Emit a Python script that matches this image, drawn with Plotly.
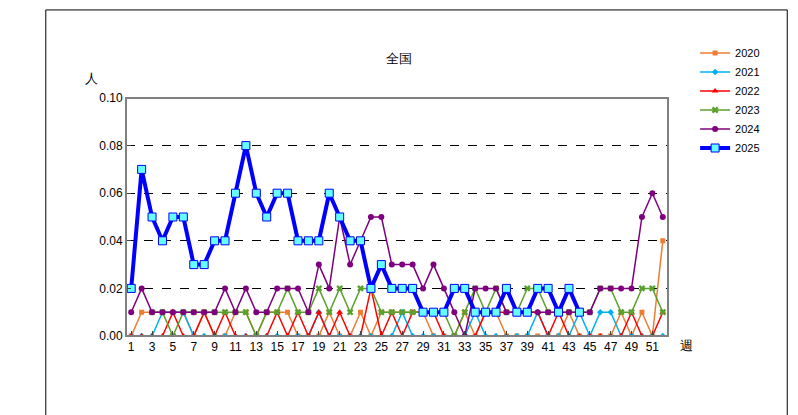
import plotly.graph_objects as go

weeks = list(range(1, 53))
y2020 = [0,0.01,0.01,0.01,0.01,0.01,0,0.01,0,0,0.01,0.01,0,0.01,0.01,0.01,0,0,0,0.01,0,0,0.01,0,0.01,0.01,0.01,0.01,0.01,0,0,0,0.01,0,0.01,0.01,0,0,0,0,0,0,0.01,0,0,0,0,0.01,0,0.01,0,0.04]
y2021 = [0,0,0,0.01,0.01,0.01,0,0,0,0,0,0,0,0,0,0,0,0,0.01,0,0,0,0,0,0,0,0.01,0,0,0,0,0,0,0.01,0,0,0,0,0,0.01,0,0,0,0.01,0,0.01,0.01,0,0,0,0,0]
y2022 = [0,0,0,0,0.01,0,0,0.01,0,0.01,0,0,0,0,0.01,0,0.01,0,0.01,0,0.01,0,0,0.02,0,0.01,0,0.01,0.01,0.01,0,0,0,0,0.01,0.01,0.01,0.01,0.01,0.01,0,0.01,0,0,0,0,0,0,0.01,0,0,0.01]
y2023 = [None,None,0.01,0.01,0,0.01,0.01,0.01,0.01,0.01,0.01,0.01,0,0.01,0.01,0.02,0.01,0.01,0.02,0.01,0.02,0.01,0.02,0.02,0.01,0.01,0.01,0.01,0.01,0.01,0.01,0,0.01,0.02,0.01,0.02,0.01,0.01,0.02,0.02,0.01,0.01,0.01,0.01,0.01,0.02,0.02,0.01,0.01,0.02,0.02,0.01]
y2024 = [0.01,0.02,0.01,0.01,0.01,0.01,0.01,0.01,0.01,0.02,0.01,0.02,0.01,0.01,0.02,0.02,0.02,0.01,0.03,0.02,0.05,0.03,0.04,0.05,0.05,0.03,0.03,0.03,0.02,0.03,0.02,0.01,0,0.02,0.02,0.02,0.01,0.01,0.01,0.01,0.01,0.01,0.01,0.01,0.01,0.02,0.02,0.02,0.02,0.05,0.06,0.05]
y2025 = [0.02,0.07,0.05,0.04,0.05,0.05,0.03,0.03,0.04,0.04,0.06,0.08,0.06,0.05,0.06,0.06,0.04,0.04,0.04,0.06,0.05,0.04,0.04,0.02,0.03,0.02,0.02,0.02,0.01,0.01,0.01,0.02,0.02,0.01,0.01,0.01,0.02,0.01,0.01,0.02,0.02,0.01,0.02,0.01]
tickvals = list(range(1, 53, 2))

fig = go.Figure()
def add(name, y, color, symbol, size, width=1.5, mcolor=None, mline=None):
    fig.add_trace(go.Scatter(x=weeks[:len(y)], y=y, name=name, mode="lines+markers",
        line=dict(color=color, width=width),
        marker=dict(symbol=symbol, size=size, color=mcolor or color,
                    line=dict(color=mline or color, width=1 if mline else 0))))
add("2020", y2020, "#ED7D31", "square", 5)
add("2021", y2021, "#00B0F0", "diamond", 5)
add("2022", y2022, "#FF0000", "triangle-up", 6)
add("2023", y2023, "#5AA02C", "x", 6)
add("2024", y2024, "#7F007F", "circle", 6)
add("2025", y2025, "#0000FF", "square", 8, width=4, mcolor="#66FFFF", mline="#0000FF")

fig.update_layout(
    width=798, height=415, plot_bgcolor="white", paper_bgcolor="white",
    margin=dict(l=118, r=138, t=90, b=87),
    font=dict(family="Liberation Sans", size=12, color="black"),
    title=dict(text="全国", x=0.49, y=0.89, xanchor="center", font=dict(size=13)),
    legend=dict(x=1.05, y=1.25, yanchor="top", tracegroupgap=0, font=dict(size=11)),
    showlegend=True,
    shapes=[dict(type="rect", xref="paper", yref="paper", x0=-0.148, x1=1.22, y0=-0.36, y1=1.37,
                 line=dict(color="black", width=1))],
    annotations=[
        dict(text="人", xref="paper", yref="paper", x=-0.08, y=1.12, showarrow=False, font=dict(size=13)),
        dict(text="週", xref="paper", yref="paper", x=1.05, y=-0.08, showarrow=False, font=dict(size=13)),
    ],
)
fig.update_xaxes(range=[0.5, 52.5], tickvals=tickvals, ticks="inside", showgrid=False,
                 showline=True, linecolor="black", mirror=False, zeroline=False)
fig.update_yaxes(range=[0, 0.1], dtick=0.02, tickformat=".2f", showgrid=True, gridcolor="black",
                 griddash="dash", gridwidth=1, showline=True, linecolor="black", zeroline=False, ticks="inside")
fig.add_shape(type="rect", xref="paper", yref="paper", x0=0, x1=1, y0=0, y1=1,
              line=dict(color="gray", width=2))
fig.write_html("out.html")
